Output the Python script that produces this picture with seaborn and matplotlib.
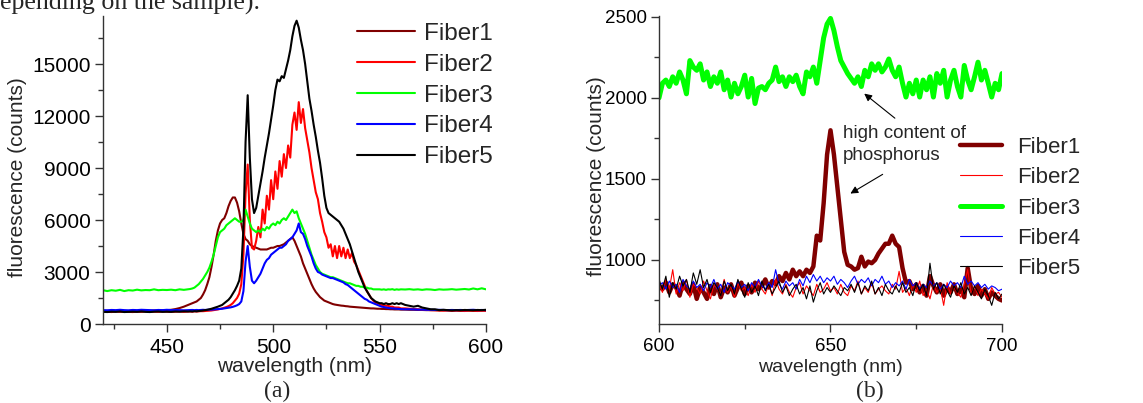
import numpy as np
import matplotlib
matplotlib.use("Agg")
import matplotlib.pyplot as plt
from matplotlib.ticker import MultipleLocator
import seaborn as sns

sns.set_style("ticks")
plt.rcParams['font.family'] = ['Liberation Sans', 'DejaVu Sans']

# ---- panel (a): full spectra, 420-600 nm ----
wl_a = np.concatenate([np.arange(420, 461, 2), np.arange(461, 561, 1), np.arange(562, 601, 2)])

fiber1_a = [750, 760, 740, 750, 760, 740, 750, 760, 750, 760, 770, 760, 780, 770, 790, 800, 820, 860, 920, 1000, 1100,
            1150, 1200, 1250, 1300, 1400, 1500, 1700, 1950, 2300, 2700,
            3300, 4000, 4800, 5400, 5800, 6000, 6100, 6400, 6800, 7100,
            7300, 7300, 7000, 6500, 5800, 5200, 4900, 4800, 4600, 4500,
            4450, 4400, 4350, 4300, 4300, 4300, 4300, 4350, 4400, 4400,
            4450, 4500, 4500, 4550, 4600, 4700, 4800, 4900, 5000, 4800,
            4500, 4200, 3900, 3500, 3200, 2900, 2600, 2300, 2050, 1850,
            1700, 1550, 1450, 1350, 1300, 1250, 1200, 1150, 1120, 1100,
            1080, 1060, 1050, 1030, 1020, 1000, 990, 980, 970, 960,
            950, 940, 930, 920, 910, 900, 900, 890, 880, 880,
            870, 870, 860, 860, 850, 850, 840, 840, 840, 830,
            830, 820, 820, 810, 810, 800, 800, 800, 790, 790, 790, 780, 790, 780, 790, 780, 780, 790, 780, 780]

fiber2_a = [700, 710, 690, 720, 700, 710, 700, 690, 710, 700, 720, 700, 710, 700, 720, 710, 700, 710, 720, 700, 720,
            720, 710, 730, 720, 730, 740, 740, 750, 760, 770,
            780, 800, 820, 840, 870, 900, 940, 980, 1030, 1100,
            1200, 1350, 1500, 1750, 2300, 4000, 7500, 9200, 6000, 4400,
            4300, 4800, 5600, 5000, 6600, 5800, 7400, 6600, 8300, 7200,
            8800, 7800, 9400, 8500, 9800, 9000, 10300, 9600, 11500, 12200,
            11200, 12800, 11600, 12400, 11300, 10600, 9900, 9000, 8300, 7600,
            7200, 6400, 5900, 5300, 5000, 4400, 4600, 3900, 4500, 3800,
            4500, 3900, 4400, 3800, 4300, 3800, 4100, 3600, 3400, 3100,
            2800, 2500, 2200, 1900, 1700, 1500, 1350, 1250, 1200, 1150,
            1100, 1100, 1050, 1050, 1000, 1000, 950, 950, 950, 900,
            900, 880, 860, 850, 830, 820, 800, 790, 780, 770, 780, 760, 770, 760, 750, 770, 760, 750, 770, 760]

fiber3_a = [1950, 1900, 1950, 1920, 1970, 1900, 1950, 1930, 1980, 1940, 1960, 1950, 2000, 1950, 1970, 1960, 1980, 1950, 2000, 1970, 2000,
            2020, 2050, 2100, 2200, 2300, 2450, 2600, 2800, 3000, 3250,
            3600, 4000, 4500, 5000, 5300, 5400, 5500, 5700, 5800, 5900,
            6000, 6100, 6000, 5900, 5900, 6000, 6600, 6200, 5800, 5500,
            5400, 5300, 5400, 5300, 5500, 5400, 5600, 5500, 5700, 5800,
            5700, 5900, 5800, 6000, 6100, 6000, 6200, 6400, 6600, 6400,
            6500, 6100, 5800, 5500, 5200, 4800, 4400, 4000, 3700, 3400,
            3200, 3000, 2900, 2850, 2800, 2750, 2700, 2700, 2650, 2600,
            2550, 2500, 2450, 2400, 2350, 2350, 2300, 2250, 2200, 2200,
            2150, 2150, 2100, 2100, 2050, 2050, 2000, 2000, 2000, 2000,
            1980, 2000, 1970, 2000, 1990, 2010, 1970, 2000, 1980, 2000,
            1990, 2010, 1980, 2000, 1970, 2000, 1990, 1960, 2000, 1980, 1990, 2010, 1980, 2000, 2020, 1990, 2050, 2000, 2060, 2000]

fiber4_a = [800, 790, 810, 800, 820, 800, 790, 810, 800, 820, 810, 800, 790, 810, 800, 820, 800, 810, 800, 790, 800,
            800, 810, 800, 810, 800, 810, 820, 810, 820, 830,
            830, 840, 850, 860, 870, 880, 900, 920, 940, 960,
            990, 1030, 1080, 1150, 1300, 1900, 3600, 4500, 3300, 2500,
            2350, 2500, 2700, 2900, 3200, 3500, 3700, 3800, 4000, 4100,
            4200, 4300, 4400, 4400, 4500, 4600, 4800, 4900, 5000, 5200,
            5400, 5800, 5300, 5200, 4900, 4500, 4200, 3900, 3500, 3200,
            3000, 2950, 2850, 2800, 2750, 2700, 2650, 2650, 2600, 2550,
            2500, 2450, 2400, 2300, 2250, 2150, 2050, 1950, 1850, 1750,
            1650, 1550, 1450, 1400, 1300, 1250, 1200, 1150, 1100, 1050,
            1000, 980, 950, 930, 910, 900, 890, 880, 870, 860,
            850, 850, 840, 830, 830, 820, 820, 810, 820, 810, 800, 810, 800, 810, 800, 810, 820, 800, 810, 800]

fiber5_a = [700, 690, 710, 700, 720, 690, 700, 710, 700, 720, 700, 690, 710, 720, 700, 710, 700, 720, 710, 730, 720,
            730, 720, 740, 730, 750, 760, 780, 800, 820, 850,
            880, 920, 960, 1000, 1050, 1100, 1200, 1300, 1400, 1550,
            1750, 1950, 2200, 2500, 3200, 5500, 10500, 13200, 9600, 7200,
            6400, 6700, 7400, 8100, 8800, 9600, 10300, 11000, 11800, 12600,
            13500, 14100, 14000, 14300, 14200, 14700, 15200, 15800, 16600, 17200,
            17500, 17100, 16400, 15800, 15000, 14000, 13000, 12300, 11500, 10800,
            10000, 9300, 8400, 7400, 6700, 6400, 6300, 6200, 6100, 6000,
            5900, 5700, 5500, 5200, 4900, 4600, 4200, 3800, 3400, 3000,
            2700, 2400, 2100, 1900, 1700, 1500, 1400, 1300, 1250, 1200,
            1200, 1150, 1200, 1150, 1150, 1200, 1150, 1200, 1150, 1200,
            1100, 1050, 1000, 1050, 950, 900, 850, 850, 800, 820, 800, 780, 800, 790, 810, 800, 790, 810, 800, 820]

# ---- panel (b): zoom 600-700 nm ----
wl_b = np.arange(600, 701, 1)

fiber1_b = [840, 820, 860, 800, 850, 830, 780, 860, 820, 790, 850, 760, 830, 800, 760, 840, 790, 850, 770, 830,
            800, 850, 780, 830, 860, 790, 840, 800, 860, 820, 840, 880, 830, 870, 850, 900, 870, 920, 880, 940,
            900, 930, 900, 940, 920, 960, 1150, 1120, 1350, 1650, 1800, 1650, 1450, 1250, 1050, 970, 960, 940, 950, 1020,
            960, 990, 980, 1000, 1040, 1070, 1100, 1100, 1150, 1100, 1080, 950, 860, 870, 820, 850, 800, 840, 780, 900,
            840, 800, 850, 780, 830, 800, 850, 790, 820, 770, 950, 820, 790, 840, 780, 820, 760, 800, 780, 760, 750]

fiber2_b = [850, 800, 880, 820, 940, 790, 860, 810, 880, 770, 850, 830, 790, 870, 810, 760, 850, 820, 790, 880,
            800, 840, 770, 860, 810, 830, 780, 850, 800, 870, 820, 790, 850, 780, 880, 820, 790, 850, 800, 770,
            830, 860, 790, 840, 810, 780, 850, 800, 820, 860, 810, 830, 790, 850, 800, 780, 840, 810, 870, 790,
            830, 800, 860, 790, 820, 840, 810, 790, 850, 820, 930, 800, 830, 780, 850, 800, 870, 780, 820, 760,
            850, 800, 830, 720, 860, 790, 830, 800, 770, 850, 940, 790, 840, 780, 820, 790, 760, 830, 790, 800, 770]

fiber3_b = [2000, 2090, 2110, 2070, 2130, 2090, 2160, 2110, 2025, 2230, 2190, 2170, 2210, 2110, 2160, 2070, 2130, 2090, 2160, 2050,
            2110, 2005, 2090, 2025, 2070, 2140, 2005, 2120, 1965, 2060, 2070, 2050, 2090, 2110, 2190, 2100, 2130, 2070, 2130, 2100,
            2140, 2070, 2025, 2160, 2130, 2190, 2090, 2230, 2370, 2455, 2490, 2415, 2315, 2230, 2190, 2150, 2120, 2090, 2130, 2070,
            2170, 2130, 2210, 2170, 2210, 2160, 2190, 2240, 2170, 2130, 2190, 2090, 2005, 2090, 2025, 2110, 2005, 2110, 2050, 2130,
            2005, 2150, 2090, 2170, 2005, 2110, 2170, 2070, 2005, 2200, 2110, 2050, 2130, 2220, 2110, 2170, 2090, 2005, 2090, 2050, 2150]

fiber4_b = [840, 860, 820, 870, 830, 850, 800, 880, 840, 820, 870, 830, 850, 810, 860, 830, 880, 820, 850, 800,
            860, 840, 820, 870, 830, 850, 810, 860, 830, 880, 840, 820, 860, 830, 940, 850, 820, 870, 840, 860,
            820, 880, 840, 900, 860, 910, 870, 900, 860, 890, 870, 900, 850, 880, 860, 830, 870, 900, 850, 880,
            860, 890, 840, 880, 860, 900, 850, 870, 830, 860, 840, 870, 820, 880, 840, 860, 820, 850, 830, 870,
            840, 860, 820, 850, 830, 870, 840, 860, 830, 900, 850, 870, 840, 860, 830, 850, 820, 840, 830, 810, 820]

fiber5_b = [880, 820, 900, 770, 860, 820, 900, 840, 880, 800, 920, 850, 940, 830, 880, 800, 860, 830, 780, 870,
            810, 850, 790, 880, 820, 770, 860, 800, 840, 780, 870, 810, 850, 790, 830, 870, 800, 840, 780, 820,
            850, 790, 830, 760, 840, 740, 810, 860, 790, 830, 800, 840, 810, 780, 830, 810, 850, 800, 860, 790,
            840, 810, 870, 790, 830, 780, 850, 810, 790, 840, 800, 860, 800, 830, 780, 860, 810, 850, 780, 980,
            820, 860, 790, 850, 810, 770, 840, 800, 860, 790, 830, 780, 840, 800, 760, 820, 780, 720, 800, 760, 790]

names = ['Fiber1', 'Fiber2', 'Fiber3', 'Fiber4', 'Fiber5']
colors = ['#800000', '#ff0000', '#00ff00', '#0000ff', '#000000']
series_a = [fiber1_a, fiber2_a, fiber3_a, fiber4_a, fiber5_a]
series_b = [fiber1_b, fiber2_b, fiber3_b, fiber4_b, fiber5_b]
widths_b = [3.2, 0.8, 3.6, 0.8, 0.8]

fig = plt.figure(figsize=(11.43, 4.03), dpi=100)
ax_a = fig.add_axes([103 / 1143, 1 - 324 / 403, 383 / 1143, 308 / 403])
ax_b = fig.add_axes([659 / 1143, 1 - 324 / 403, 343 / 1143, 308 / 403])

for name, col, vals in zip(names, colors, series_a):
    sns.lineplot(x=wl_a, y=vals, ax=ax_a, color=col, linewidth=1.5, label=name,
                 estimator=None, sort=False)
for name, col, lw, vals in zip(names, colors, widths_b, series_b):
    sns.lineplot(x=wl_b, y=vals, ax=ax_b, color=col, linewidth=lw, label=name,
                 estimator=None, sort=False)

# axes styling
for ax in (ax_a, ax_b):
    sns.despine(ax=ax)
    for sp in ('left', 'bottom'):
        ax.spines[sp].set_linewidth(1.0)
        ax.spines[sp].set_color('#333333')
    ax.tick_params(which='major', direction='out', length=6, width=1.0, colors='#333333')
    ax.tick_params(which='minor', direction='out', length=3.5, width=1.0, colors='#333333')
    ax.tick_params(axis='both', labelcolor='black')

ax_a.set_xlim(420, 600)
ax_a.set_ylim(0, 17770)
ax_a.xaxis.set_major_locator(MultipleLocator(50))
ax_a.xaxis.set_minor_locator(MultipleLocator(25))
ax_a.yaxis.set_major_locator(MultipleLocator(3000))
ax_a.yaxis.set_minor_locator(MultipleLocator(1500))
ax_a.tick_params(axis='both', labelsize=15)
ax_a.tick_params(axis='x', pad=4)
ax_a.tick_params(axis='y', pad=3)

ax_b.set_xlim(600, 700)
ax_b.set_ylim(605, 2505)
ax_b.xaxis.set_major_locator(MultipleLocator(50))
ax_b.xaxis.set_minor_locator(MultipleLocator(25))
ax_b.yaxis.set_major_locator(MultipleLocator(500))
ax_b.yaxis.set_minor_locator(MultipleLocator(250))
ax_b.tick_params(axis='both', labelsize=13.5)
ax_b.tick_params(axis='x', pad=4)
ax_b.tick_params(axis='y', pad=3)

# labels
ax_a.set_xlabel('wavelength (nm)', fontsize=15, va='center')
ax_a.xaxis.set_label_coords(0.5, (324 - 367) / 308)
ax_a.set_ylabel('fluorescence (counts)', fontsize=15, va='center')
ax_a.yaxis.set_label_coords((18 - 103) / 383, (324 - 177) / 308)
ax_b.set_xlabel('wavelength (nm)', fontsize=14, va='center')
ax_b.xaxis.set_label_coords(0.5, (324 - 368) / 308)
ax_b.set_ylabel('fluorescence (counts)', fontsize=15, va='center')
ax_b.yaxis.set_label_coords((596 - 659) / 343, (324 - 176) / 308)

# legends
h, l = ax_a.get_legend_handles_labels()
ax_a.get_legend().remove()
fig.legend(h, l, loc='center left', bbox_to_anchor=(357 / 1143, 1 - 95.5 / 403),
           frameon=False, fontsize=17.5, handlelength=2.4, handletextpad=0.35,
           labelspacing=0.36, borderpad=0, borderaxespad=0)
h, l = ax_b.get_legend_handles_labels()
ax_b.get_legend().remove()
fig.legend(h, l, loc='center left', bbox_to_anchor=(960 / 1143, 1 - 208 / 403),
           frameon=False, fontsize=16, handlelength=1.9, handletextpad=0.65,
           labelspacing=0.42, borderpad=0, borderaxespad=0)

# annotation in panel (b)
note_xy = (653.6, 1712)
arrow_green = ((659.2, 2037), (669.4, 1864))
arrow_red = ((655.1, 1401), (665.9, 1537))
ax_b.text(note_xy[0], note_xy[1], 'high content of\nphosphorus', fontsize=13.5,
          ha='left', va='center', linespacing=1.4)
for tip, tail in (arrow_green, arrow_red):
    ax_b.annotate('', xy=tip, xytext=tail,
                  arrowprops=dict(arrowstyle='-|>', color='black', lw=0.8, mutation_scale=11))

# page text around the figure
serif = ['Liberation Serif', 'DejaVu Serif']
fig.text(0, 1 - 10 / 403, 'epending on the sample).', family=serif, fontsize=18.6, va='baseline')
fig.text(277 / 1143, 1 - 397 / 403, '(a)', family=serif, fontsize=17, ha='center', va='baseline')
fig.text(870 / 1143, 1 - 397 / 403, '(b)', family=serif, fontsize=17, ha='center', va='baseline')

fig.savefig('out.png', dpi=100)
